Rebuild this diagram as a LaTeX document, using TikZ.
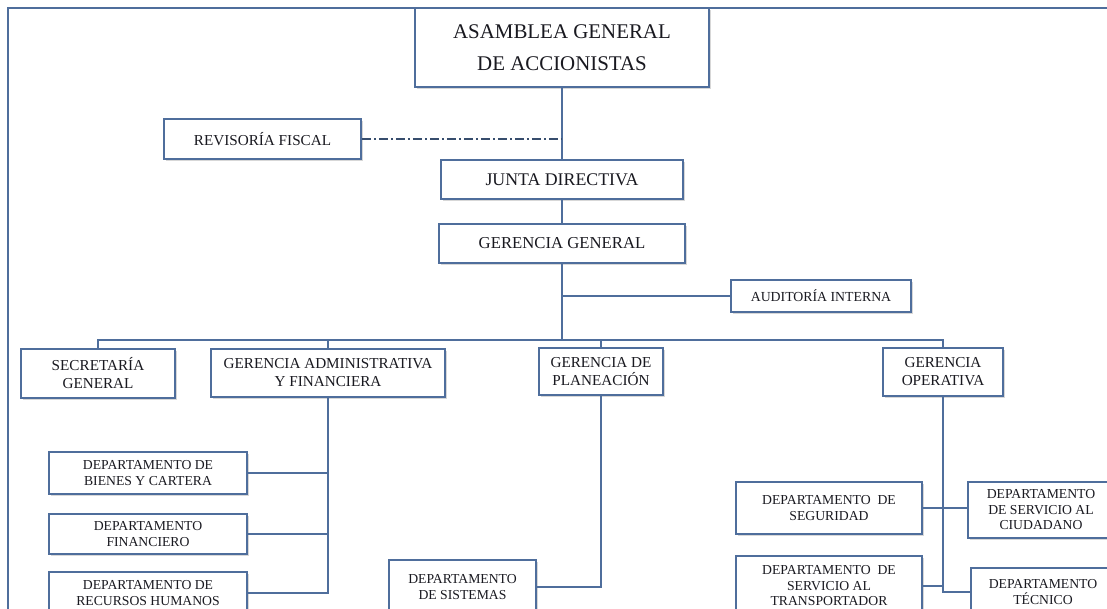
\documentclass[tikz,border=0pt]{standalone}
\usepackage{fontspec}
\setmainfont{Liberation Serif}
\usepackage{xcolor}
\usepackage{tikz}
\usetikzlibrary{shadows,positioning}
\definecolor{orgblue}{RGB}{79,110,156}
\definecolor{orgtext}{RGB}{25,25,32}

\begin{document}
\begin{tikzpicture}[x=1pt,y=-1pt,
                    orgbox/.style={draw=orgblue, line width=1.6pt, fill=white, inner sep=0pt,
                                   align=center, text=orgtext,
                                   drop shadow={shadow xshift=1.5pt,shadow yshift=-2pt,opacity=0.35,fill=black!45}},
                    topbox/.style={orgbox, font=\fontsize{20.9}{32}\selectfont},
                    gerbox/.style={orgbox, font=\fontsize{15.2}{18}\selectfont},
                    deptbox/.style={orgbox, font=\fontsize{13.7}{15.5}\selectfont},
                    link/.style={orgblue, line width=1.4pt},
                    dashlink/.style={orgblue!70!black, line width=1.1pt, dash pattern=on 9pt off 3pt on 2pt off 3pt},
                    frame/.style={orgblue, line width=1.8pt},
                   ]

\useasboundingbox (0,0) rectangle (1107,609);
\clip (0,0) rectangle (1107,609);

\draw[frame] (8,609) -- (8,8) -- (1107,8);

% top levels
\node[topbox, minimum width=294pt, minimum height=79pt] (asamblea) at (562,47.5) {ASAMBLEA GENERAL\\DE ACCIONISTAS};
\node[gerbox, minimum width=197pt, minimum height=40pt] (revisoria) at (262.5,139) {REVISORÍA FISCAL};
\node[orgbox, font=\fontsize{17.8}{20}\selectfont, minimum width=242pt, minimum height=39pt] (junta) at (562,179.5) {JUNTA DIRECTIVA};
\node[orgbox, font=\fontsize{16.7}{20}\selectfont, minimum width=246pt, minimum height=39pt] (gergen) at (562,243.5) {GERENCIA GENERAL};
\node[orgbox, font=\fontsize{13.8}{16}\selectfont, minimum width=180pt, minimum height=32pt] (auditoria) at (821,296) {AUDITORÍA INTERNA};

% gerencias
\node[gerbox, minimum width=154pt, minimum height=49pt] (secretaria) at (98,373.5) {SECRETARÍA\\GENERAL};
\node[gerbox, minimum width=234pt, minimum height=48pt] (geradm) at (328,373) {GERENCIA ADMINISTRATIVA\\Y FINANCIERA};
\node[gerbox, minimum width=124pt, minimum height=47pt] (gerplan) at (601,371.5) {GERENCIA DE\\PLANEACIÓN};
\node[gerbox, minimum width=120pt, minimum height=48pt] (gerop) at (943,372) {GERENCIA\\OPERATIVA};

% departamentos
\node[deptbox, minimum width=198pt, minimum height=42pt] (bienes) at (148,473) {DEPARTAMENTO DE\\BIENES Y CARTERA};
\node[deptbox, minimum width=198pt, minimum height=40pt] (financiero) at (148,534) {DEPARTAMENTO\\FINANCIERO};
\node[deptbox, minimum width=198pt, minimum height=42pt] (rrhh) at (148,593) {DEPARTAMENTO DE\\RECURSOS HUMANOS};
\node[deptbox, minimum width=147pt, minimum height=54pt] (sistemas) at (462.5,587) {DEPARTAMENTO\\DE SISTEMAS};
\node[deptbox, minimum width=186pt, minimum height=52pt] (seguridad) at (829,508) {DEPARTAMENTO\ \ DE\\SEGURIDAD};
\node[deptbox, minimum width=146pt, minimum height=56pt] (ciudadano) at (1041,510) {DEPARTAMENTO\\DE SERVICIO AL\\CIUDADANO};
\node[deptbox, minimum width=186pt, minimum height=60pt] (transportador) at (829,586) {DEPARTAMENTO\ \ DE\\SERVICIO AL\\TRANSPORTADOR};
\node[deptbox, minimum width=144pt, minimum height=48pt] (tecnico) at (1043,592) {DEPARTAMENTO\\TÉCNICO};

\coordinate (bus) at (562,340);
\coordinate (aud) at (562,296);

\draw[link] (asamblea.south) -- (junta.north);
\draw[dashlink] (revisoria.east) -- (revisoria.east -| asamblea.south);
\draw[link] (junta.south) -- (gergen.north);
\draw[link] (gergen.south) -- (bus);
\draw[link] (aud) -- (auditoria.west);

\draw[link] (secretaria.north) -- (secretaria.north |- bus) -- (gerop.north |- bus) -- (gerop.north);
\draw[link] (geradm.north) -- (geradm.north |- bus);
\draw[link] (gerplan.north) -- (gerplan.north |- bus);

\draw[link] (geradm.south) -- (geradm.south |- rrhh.east) -- (rrhh.east);
\draw[link] (bienes.east) -- (bienes.east -| geradm.south);
\draw[link] (financiero.east) -- (financiero.east -| geradm.south);

\draw[link] (gerplan.south) -- (gerplan.south |- sistemas.east) -- (sistemas.east);

\draw[link] (gerop.south) -- (gerop.south |- tecnico.west) -- (tecnico.west);
\draw[link] (seguridad.east) -- (seguridad.east -| ciudadano.west);
\draw[link] (transportador.east) -- (transportador.east -| gerop.south);

\end{tikzpicture}
\end{document}
